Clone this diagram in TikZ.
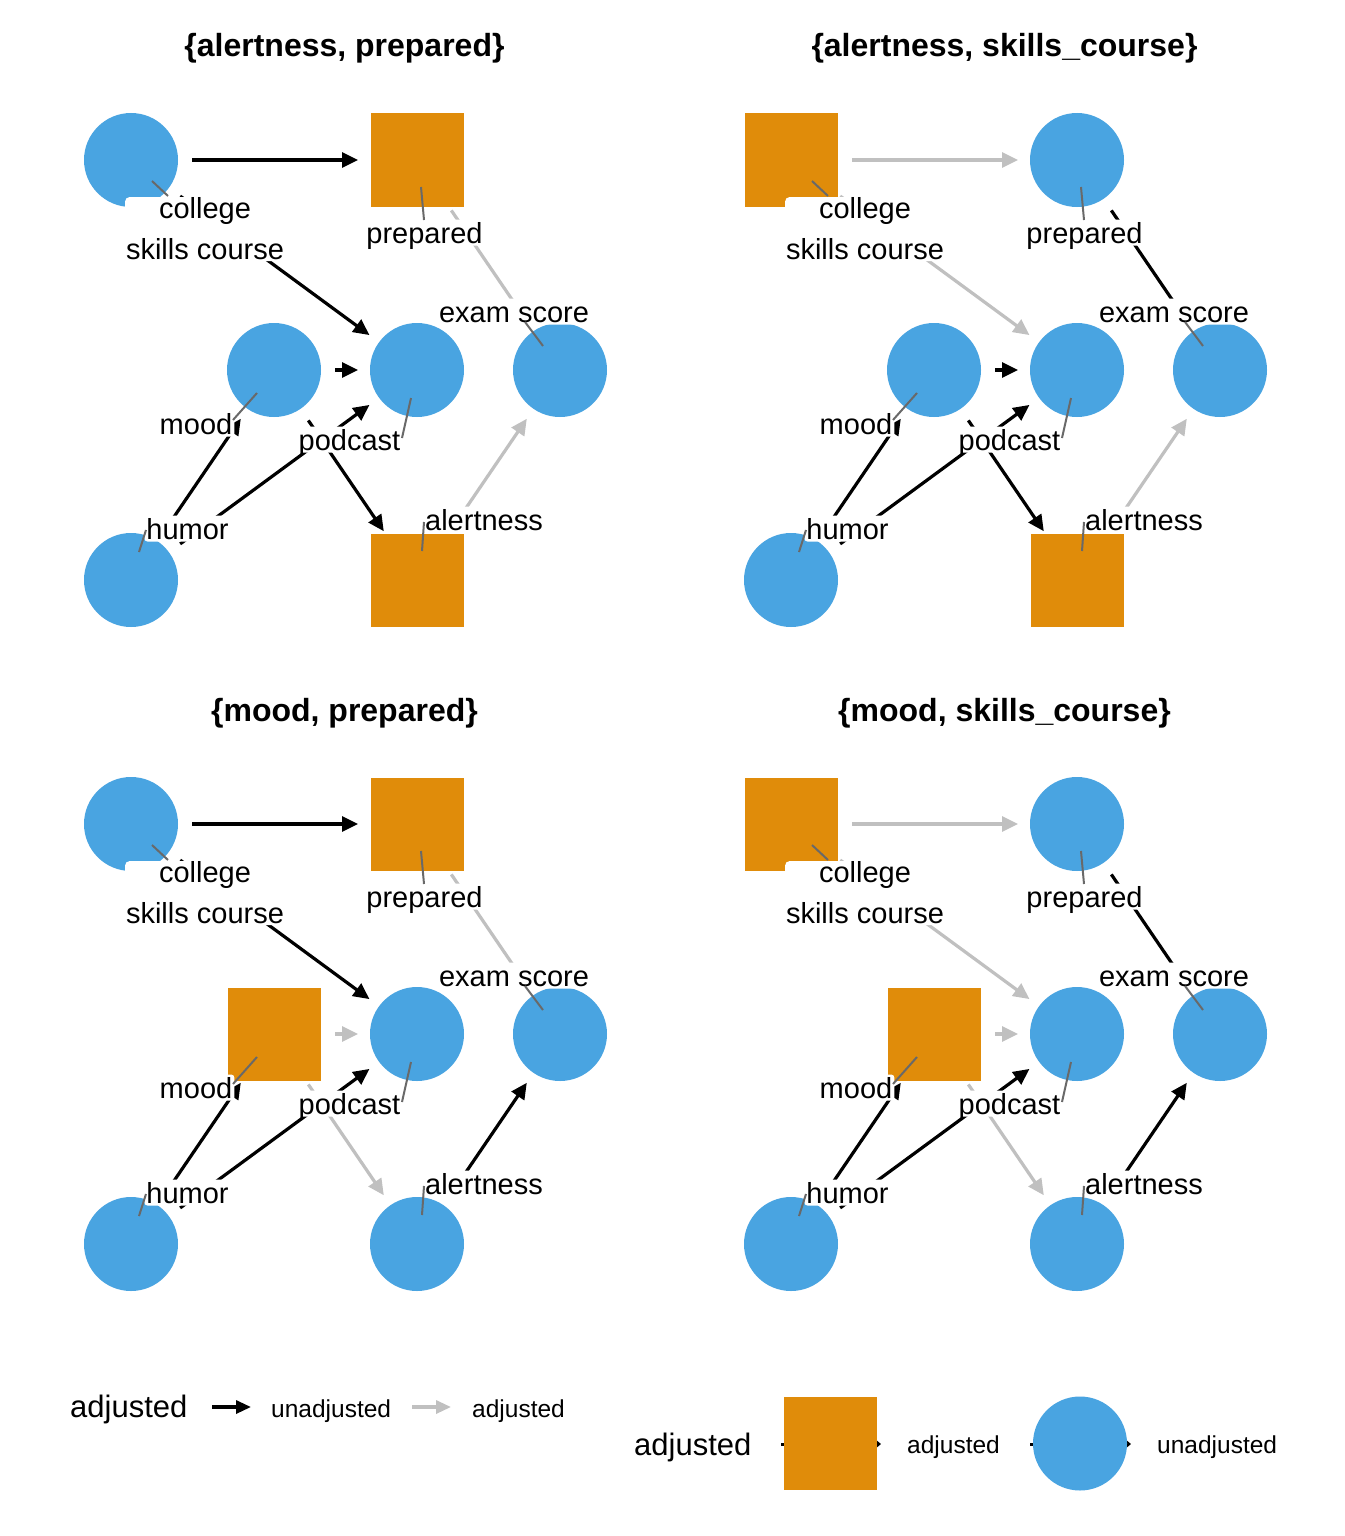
\documentclass[tikz,border=0pt]{standalone}
\usepackage{fontspec}
\setmainfont{Liberation Sans}
\usetikzlibrary{arrows.meta,calc}
\definecolor{nodeblue}{RGB}{73,164,225}
\definecolor{nodeorange}{RGB}{224,140,10}
\definecolor{edgegray}{RGB}{192,192,192}
\definecolor{leadgray}{RGB}{105,105,105}
\newcommand{\dagbody}[2]{%
  \node[titletext] (#1title) at (344.5,57) {#2};
  \node[skN] (#1sk) at (131,160) {};
  \node[prN] (#1pr) at (417,160) {};
  \node[moN] (#1mo) at (274,370) {};
  \node[circ] (#1po) at (417,370) {};
  \node[circ] (#1ex) at (560,370) {};
  \node[circ] (#1hu) at (131,580) {};
  \node[alN] (#1al) at (417,580) {};
  \draw[skE] (#1sk.center) -- (#1pr.center);
  \draw[skE] (#1sk.center) -- (#1po.center);
  \draw[prE] (#1pr.center) -- (#1ex.center);
  \draw[moE] (#1mo.center) -- (#1po.center);
  \draw[eun] (#1hu.center) -- (#1mo.center);
  \draw[eun] (#1hu.center) -- (#1po.center);
  \draw[moE] (#1mo.center) -- (#1al.center);
  \draw[alE] (#1al.center) -- (#1ex.center);
  \node[lblbox, minimum width=160pt, minimum height=64pt, anchor=north west] (#1lskbox) at (125,197) {};
  \node[lbltext] (#1lsk1) at (205,218) {college};
  \node[lbltext] (#1lsk2) at (205,259) {skills course};
  \node[lbl] (#1lpr) at (424.5,243) {prepared};
  \node[lbl] (#1lex) at (514,322) {exam score};
  \node[lbl] (#1lmo) at (196,434) {mood};
  \node[lbl] (#1lpo) at (349.5,450) {podcast};
  \node[lbl] (#1lhu) at (187.5,539) {humor};
  \node[lbl] (#1lal) at (484,530) {alertness};
  \draw[leader] ($(#1sk.center)+(21,21)$) -- ($(#1sk.center)+(37,36)$);
  \draw[leader] ($(#1pr.center)+(4,27)$) -- ($(#1pr.center)+(7,60)$);
  \draw[leader] ($(#1ex.center)+(-17,-24)$) -- ($(#1ex.center)+(-35,-48)$);
  \draw[leader] ($(#1mo.center)+(-17,23)$) -- ($(#1mo.center)+(-41,50)$);
  \draw[leader] ($(#1po.center)+(-6,28)$) -- ($(#1po.center)+(-15,68)$);
  \draw[leader] ($(#1hu.center)+(8,-28)$) -- ($(#1hu.center)+(15,-50)$);
  \draw[leader] ($(#1al.center)+(5,-29)$) -- ($(#1al.center)+(7,-58)$);
}
\begin{document}
\begin{tikzpicture}[x=1pt,y=-1pt,
  circ/.style={circle, fill=nodeblue, minimum size=94pt, inner sep=0pt},
  sq/.style={rectangle, fill=nodeorange, minimum size=93pt, inner sep=0pt},
  eun/.style={draw=black, line width=3.2pt, shorten <=61pt, shorten >=59pt, -{Triangle[length=16pt,width=15pt]}},
  ead/.style={eun, draw=edgegray},
  lbl/.style={anchor=base, fill=white, rounded corners=3pt, inner xsep=2pt, inner ysep=2.5pt, text height=21pt, text depth=0pt, font=\fontsize{29}{35}\selectfont},
  lbltext/.style={anchor=base, inner sep=0pt, font=\fontsize{29}{35}\selectfont},
  lblbox/.style={fill=white, rounded corners=4pt, inner sep=0pt},
  leader/.style={draw=leadgray, line width=2pt},
  titletext/.style={anchor=base, inner sep=0pt, font=\fontsize{32}{38}\selectfont\bfseries},
  legtitle/.style={anchor=base west, inner sep=0pt, font=\fontsize{31}{37}\selectfont},
  legtext/.style={anchor=base west, inner sep=0pt, font=\fontsize{24.5}{30}\selectfont},
  legun/.style={draw=black, line width=3.2pt, -{Triangle[length=15pt,width=13pt]}},
  legad/.style={legun, draw=edgegray},
  legkey/.style={draw=black, line width=3pt, -{Triangle[length=5pt,width=8pt]}}
]
\useasboundingbox (0,0) rectangle (1344,1536);
\fill[white] (0,0) rectangle (1344,1536);

% {alertness, prepared}
\begin{scope}[skN/.style={circ}, skE/.style={eun}, prN/.style={sq}, prE/.style={ead},
  moN/.style={circ}, moE/.style={eun}, alN/.style={sq}, alE/.style={ead}]
\dagbody{a}{\{alertness, prepared\}}
\end{scope}

% {alertness, skills_course}
\begin{scope}[shift={(660,0)}, skN/.style={sq}, skE/.style={ead}, prN/.style={circ}, prE/.style={eun},
  moN/.style={circ}, moE/.style={eun}, alN/.style={sq}, alE/.style={ead}]
\dagbody{b}{\{alertness, skills\_course\}}
\end{scope}

% {mood, prepared}
\begin{scope}[shift={(0,664)}, skN/.style={circ}, skE/.style={eun}, prN/.style={sq}, prE/.style={ead},
  moN/.style={sq}, moE/.style={ead}, alN/.style={circ}, alE/.style={eun}]
\dagbody{c}{\{mood, prepared\}}
\end{scope}

% {mood, skills_course}
\begin{scope}[shift={(660,664)}, skN/.style={sq}, skE/.style={ead}, prN/.style={circ}, prE/.style={eun},
  moN/.style={sq}, moE/.style={ead}, alN/.style={circ}, alE/.style={eun}]
\dagbody{d}{\{mood, skills\_course\}}
\end{scope}

% legend 1 (edges)
\node[legtitle] (lg1t) at (70,1417.5) {adjusted};
\coordinate (lg1a1) at (212,1407);
\coordinate (lg1a2) at (251,1407);
\draw[legun] (lg1a1) -- (lg1a2);
\node[legtext] (lg1u) at (271,1417) {unadjusted};
\coordinate (lg1b1) at (412,1407);
\coordinate (lg1b2) at (451,1407);
\draw[legad] (lg1b1) -- (lg1b2);
\node[legtext] (lg1d) at (472,1417) {adjusted};

% legend 2 (nodes)
\node[legtitle] (lg2t) at (634,1455) {adjusted};
\coordinate (lg2a1) at (781,1444);
\coordinate (lg2a2) at (881,1444);
\draw[legkey] (lg2a1) -- (lg2a2);
\node[sq] (lg2sq) at (830.5,1443.5) {};
\node[legtext] (lg2d) at (907,1453) {adjusted};
\coordinate (lg2b1) at (1030,1444);
\coordinate (lg2b2) at (1131,1444);
\draw[legkey] (lg2b1) -- (lg2b2);
\node[circ] (lg2ci) at (1080,1443.5) {};
\node[legtext] (lg2u) at (1157,1453) {unadjusted};
\end{tikzpicture}
\end{document}
